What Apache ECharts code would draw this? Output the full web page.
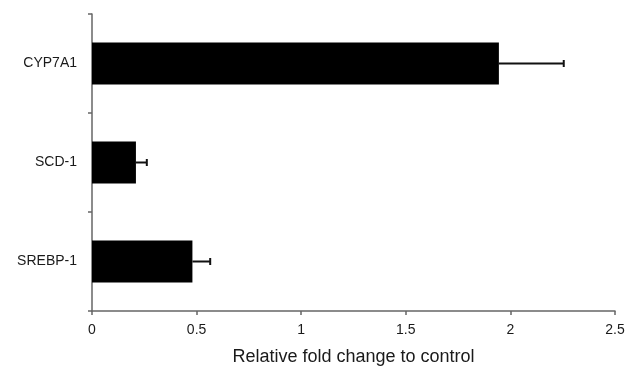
<!DOCTYPE html>
<html><head><meta charset="utf-8">
<script src="https://cdn.jsdelivr.net/npm/echarts@6/dist/echarts.min.js"></script>
<style>html,body{margin:0;padding:0;background:#fff}#c{width:629px;height:371px}</style>
</head><body><div id="c"></div>
<script>
const categories = ['SREBP-1', 'SCD-1', 'CYP7A1'];
const values = [0.48, 0.21, 1.945];
const errorUpper = [0.565, 0.262, 2.255];
const xTicks = [0, 0.5, 1, 1.5, 2, 2.5];

const chart = echarts.init(document.getElementById('c'));
const axisColor = '#666';
chart.setOption({
  animation: false,
  backgroundColor: '#fff',
  grid: { left: 92, right: 14, top: 14, bottom: 56 },
  xAxis: {
    type: 'value', min: 0, max: 2.5, interval: 0.5,
    name: 'Relative fold change to control', nameLocation: 'middle', nameGap: 37,
    nameTextStyle: { fontFamily: 'Liberation Sans', fontSize: 18, color: '#1a1a1a' },
    axisLine: { show: true, lineStyle: { color: axisColor, width: 1.5 } },
    axisTick: { show: true, length: 4, lineStyle: { color: axisColor, width: 1.5 } },
    axisLabel: { fontFamily: 'Liberation Sans', fontSize: 14, color: '#1a1a1a', margin: 12,
      formatter: v => String(v) },
    splitLine: { show: false }
  },
  yAxis: {
    type: 'category', data: categories,
    axisLine: { show: true, lineStyle: { color: axisColor, width: 1.5 } },
    axisTick: { show: true, length: 4, lineStyle: { color: axisColor, width: 1.5 } },
    axisLabel: { fontFamily: 'Liberation Sans', fontSize: 14, color: '#1a1a1a', margin: 15 },
    splitLine: { show: false }
  },
  series: [
    {
      type: 'bar', data: values, barWidth: 42,
      itemStyle: { color: '#000' }
    },
    {
      type: 'custom', z: 3,
      data: categories.map((c, i) => [values[i], errorUpper[i], i]),
      encode: { x: [0, 1], y: 2 },
      renderItem: function (params, api) {
        const idx = api.value(2);
        const p0 = api.coord([api.value(0), idx]);
        const p1 = api.coord([api.value(1), idx]);
        const style = { stroke: '#111', lineWidth: 2 };
        return {
          type: 'group',
          children: [
            { type: 'line', shape: { x1: p0[0], y1: p0[1], x2: p1[0], y2: p1[1] }, style: style },
            { type: 'line', shape: { x1: p1[0], y1: p1[1] - 3.5, x2: p1[0], y2: p1[1] + 3.5 }, style: style }
          ]
        };
      }
    }
  ]
});
</script></body></html>
